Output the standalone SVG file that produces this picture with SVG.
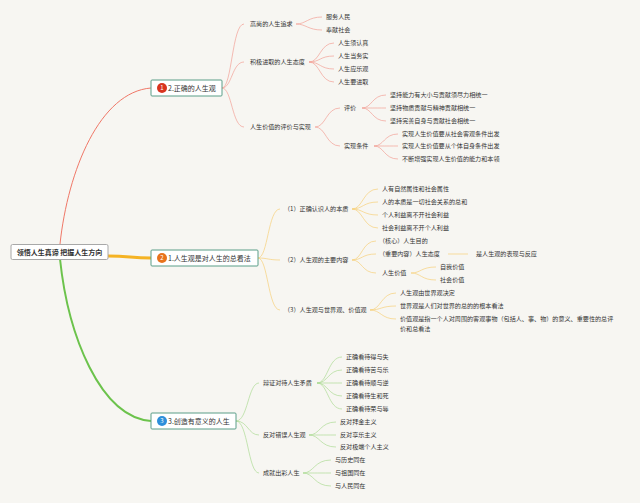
<svg xmlns="http://www.w3.org/2000/svg" width="640" height="503" viewBox="0 0 640 503">
<style>
text{font-family:"Noto Sans CJK SC","Noto Sans",sans-serif;fill:#333}
.t{font-size:6.1px}
.n{font-size:7px}
.c{font-size:7px;font-weight:bold;text-anchor:middle}
.b{font-size:6px;fill:#fff;text-anchor:middle}
.box{fill:#fff;stroke:#5a9e88;stroke-width:1}
.r{fill:none;stroke:#f2a196;stroke-width:0.7}
.y{fill:none;stroke:#f7d07a;stroke-width:0.7}
.g{fill:none;stroke:#aedb95;stroke-width:0.7}
</style>
<rect width="640" height="503" fill="#f7f6f2"/>
<g id="connectors">
<path d="M60,244 C68,170 100,92 151,88" fill="none" stroke="#f07868" stroke-width="1"/>
<path d="M108,256 C130,256 130,258 151,258" fill="none" stroke="#f5b324" stroke-width="3"/>
<path d="M60,259 C68,335 100,417 151,421" fill="none" stroke="#6cc34c" stroke-width="2"/>
<path class="r" d="M222,88 C232,88 232,24 244,24 M222,88 C232,88 232,62 244,62 M222,88 C232,88 232,127 244,127"/>
<path class="r" d="M296,24 C306,24 308,17 322,17 M296,24 C306,24 308,30 322,30"/>
<path class="r" d="M309,62 C320,62 320,43 334,43 M309,62 C320,62 320,56 334,56 M309,62 C320,62 320,69 334,69 M309,62 C320,62 320,82 334,82"/>
<path class="r" d="M315,127 C326,127 326,108 340,108 M315,127 C326,127 326,146 340,146"/>
<path class="r" d="M362,108 C372,108 372,95 386,95 M362,108 C372,108 372,108 386,108 M362,108 C372,108 372,121 386,121"/>
<path class="r" d="M374,146 C384,146 384,134 398,134 M374,146 C384,146 384,146 398,146 M374,146 C384,146 384,159 398,159"/>
<path class="y" d="M258,258 C268,258 268,209 280,209 M258,258 C268,258 268,260 280,260 M258,258 C268,258 268,310 280,310"/>
<path class="y" d="M352,209 C363,209 363,189 378,189 M352,209 C363,209 363,202 378,202 M352,209 C363,209 363,215 378,215 M352,209 C363,209 363,228 378,228"/>
<path class="y" d="M352,260 C362,260 362,241 376,241 M352,260 C362,260 362,254 376,254 M352,260 C362,260 362,273 376,273"/>
<path class="y" d="M448,254 L468,254"/>
<path class="y" d="M411,273 C421,273 421,267 436,267 M411,273 C421,273 421,280 436,280"/>
<path class="y" d="M370,310 C381,310 381,293 396,293 M370,310 C381,310 381,306 396,306 M370,310 C381,310 381,319 396,319"/>
<path class="g" d="M236,421 C248,421 248,383 259,383 M236,421 C248,421 248,435 259,435 M236,421 C248,421 248,473 259,473"/>
<path class="g" d="M317,383 C328,383 328,357 342,357 M317,383 C328,383 328,370 342,370 M317,383 C328,383 328,383 342,383 M317,383 C328,383 328,396 342,396 M317,383 C328,383 328,409 342,409"/>
<path class="g" d="M309,435 C320,435 320,422 336,422 M309,435 C320,435 320,435 336,435 M309,435 C320,435 320,447 336,447"/>
<path class="g" d="M303,473 C314,473 314,460 331,460 M303,473 C314,473 314,473 331,473 M303,473 C314,473 314,486 331,486"/>
</g>
<g id="root">
<rect x="11" y="244.5" width="97" height="15" rx="1.5" fill="#fff" stroke="#a8a8a8" stroke-width="1"/>
<text class="c" x="59.5" y="254.5">领悟人生真谛 把握人生方向</text>
</g>
<g id="node1">
<rect class="box" x="151" y="80" width="71" height="16" rx="1"/>
<circle cx="162" cy="88" r="5" fill="#d8341f"/>
<text class="b" x="162" y="90.2">1</text>
<text class="n" x="168" y="90.5">2.正确的人生观</text>
</g>
<g id="node2">
<rect class="box" x="151" y="250" width="107" height="16" rx="1"/>
<circle cx="162" cy="258" r="5" fill="#e8731c"/>
<text class="b" x="162" y="260.2">2</text>
<text class="n" x="168" y="260.5">1.人生观是对人生的总看法</text>
</g>
<g id="node3">
<rect class="box" x="151" y="413" width="85" height="16" rx="1"/>
<circle cx="162" cy="421" r="5" fill="#2d8fdb"/>
<text class="b" x="162" y="423.2">3</text>
<text class="n" x="168" y="423.5">3.创造有意义的人生</text>
</g>
<g id="branch1">
<text class="t" x="250" y="26.2">高尚的人生追求</text>
<text class="t" x="326" y="19.2">服务人民</text>
<text class="t" x="326" y="32.2">奉献社会</text>
<text class="t" x="250" y="64.2">积极进取的人生态度</text>
<text class="t" x="338" y="45.2">人生须认真</text>
<text class="t" x="338" y="58.2">人生当务实</text>
<text class="t" x="338" y="71.2">人生应乐观</text>
<text class="t" x="338" y="84.2">人生要进取</text>
<text class="t" x="250" y="129.2">人生价值的评价与实现</text>
<text class="t" x="344" y="110.2">评价</text>
<text class="t" x="344" y="148.2">实现条件</text>
<text class="t" x="390" y="97.2">坚持能力有大小与贡献须尽力相统一</text>
<text class="t" x="390" y="110.2">坚持物质贡献与精神贡献相统一</text>
<text class="t" x="390" y="123.2">坚持完善自身与贡献社会相统一</text>
<text class="t" x="402" y="136.2">实现人生价值要从社会客观条件出发</text>
<text class="t" x="402" y="148.2">实现人生价值要从个体自身条件出发</text>
<text class="t" x="402" y="161.2">不断增强实现人生价值的能力和本领</text>
</g>
<g id="branch2">
<text class="t" x="284" y="211.2">（1）正确认识人的本质</text>
<text class="t" x="382" y="191.2">人有自然属性和社会属性</text>
<text class="t" x="382" y="204.2">人的本质是一切社会关系的总和</text>
<text class="t" x="382" y="217.2">个人利益离不开社会利益</text>
<text class="t" x="382" y="230.2">社会利益离不开个人利益</text>
<text class="t" x="284" y="262.2">（2）人生观的主要内容</text>
<text class="t" x="379" y="243.2">（核心）人生目的</text>
<text class="t" x="379" y="256.2">（重要内容）人生态度</text>
<text class="t" x="476" y="256.2">是人生观的表现与反应</text>
<text class="t" x="382" y="275.2">人生价值</text>
<text class="t" x="440" y="269.2">自我价值</text>
<text class="t" x="440" y="282.2">社会价值</text>
<text class="t" x="284" y="312.2">（3）人生观与世界观、价值观</text>
<text class="t" x="400" y="295.2">人生观由世界观决定</text>
<text class="t" x="400" y="308.2">世界观是人们对世界的总的的根本看法</text>
<text class="t" x="400" y="321.2">价值观是指一个人对周围的客观事物（包括人、事、物）的意义、重要性的总评</text>
<text class="t" x="400" y="331">价和总看法</text>
</g>
<g id="branch3">
<text class="t" x="263" y="385.2">辩证对待人生矛盾</text>
<text class="t" x="346" y="359.2">正确看待得与失</text>
<text class="t" x="346" y="372.2">正确看待苦与乐</text>
<text class="t" x="346" y="385.2">正确看待顺与逆</text>
<text class="t" x="346" y="398.2">正确看待生和死</text>
<text class="t" x="346" y="411.2">正确看待荣与辱</text>
<text class="t" x="263" y="437.2">反对错误人生观</text>
<text class="t" x="340" y="424.2">反对拜金主义</text>
<text class="t" x="340" y="437.2">反对享乐主义</text>
<text class="t" x="340" y="449.2">反对极端个人主义</text>
<text class="t" x="263" y="475.2">成就出彩人生</text>
<text class="t" x="335" y="462.2">与历史同在</text>
<text class="t" x="335" y="475.2">与祖国同在</text>
<text class="t" x="335" y="488.2">与人民同在</text>
</g>
</svg>
